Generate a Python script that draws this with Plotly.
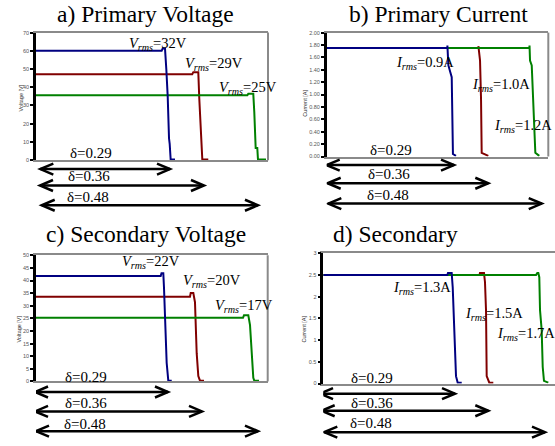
import plotly.graph_objects as go

W, H = 555, 446

# ---------------- data (time in units of the switching period) ----------------
# a) Primary Voltage [V]
A_BLUE_T = [0, 0.2793, 0.2816, 0.2867, 0.2896, 0.2927, 0.2956, 0.2971, 0.2993, 0.3089]
A_BLUE_V = [60, 60, 61.3, 61.3, 50, 35, 12, 9, 0.3, 0.3]
A_RED_T = [0, 0.3473, 0.3496, 0.3607, 0.3629, 0.3660, 0.3682, 0.3696, 0.3829]
A_RED_V = [47.2, 47.2, 48.3, 48.3, 33.7, 13.9, 10.3, 0.4, 0.4]
A_GREEN_T = [0, 0.4696, 0.4718, 0.4829, 0.4851, 0.4882, 0.4918, 0.4933, 0.5111]
A_GREEN_V = [35.6, 35.6, 36.4, 36.4, 26.5, 6.7, 6.7, 0.4, 0.4]

# b) Primary Current [A]
B_BLUE_T = [0, 0.2680, 0.2682, 0.2704, 0.2778, 0.2785, 0.2800, 0.2805, 0.2873]
B_BLUE_I = [1.75, 1.75, 1.79, 1.47, 1.28, 0.51, 0.38, 0.04, 0.01]
B_RED_T = [0, 0.3369, 0.3371, 0.3407, 0.3429, 0.3444, 0.3591]
B_RED_I = [1.75, 1.75, 1.78, 1.55, 0.94, 0.06, 0.01]
B_GREEN_T = [0, 0.4502, 0.4507, 0.4518, 0.4556, 0.4607, 0.4636, 0.4724]
B_GREEN_I = [1.75, 1.75, 1.79, 1.55, 1.47, 0.57, 0.06, 0.01]

# c) Secondary Voltage [V]
C_BLUE_T = [0, 0.2771, 0.2789, 0.2829, 0.2844, 0.2904, 0.2940, 0.3016]
C_BLUE_V = [41.8, 41.8, 42.9, 42.9, 37.3, 7.3, 0.3, 0.3]
C_RED_T = [0, 0.3422, 0.3438, 0.3496, 0.3533, 0.3571, 0.3607, 0.3644, 0.3733]
C_RED_V = [33.6, 33.6, 35.0, 35.0, 31.4, 11.2, 2.1, 0.3, 0.3]
C_GREEN_T = [0, 0.4600, 0.4622, 0.4718, 0.4756, 0.4793, 0.4829, 0.4851, 0.4956]
C_GREEN_V = [25.2, 25.2, 26.2, 26.2, 22.3, 11.2, 1.4, 0.3, 0.3]

# d) Secondary Current [A]
D_BLUE_T = [0, 0.2756, 0.2771, 0.2853, 0.2876, 0.2904, 0.2949, 0.2987, 0.3076]
D_BLUE_I = [2.5, 2.5, 2.55, 2.55, 2.22, 1.23, 0.17, 0.02, 0.02]
D_RED_T = [0, 0.3471, 0.3482, 0.3571, 0.3593, 0.3616, 0.3631, 0.3689, 0.3778]
D_RED_I = [2.5, 2.5, 2.55, 2.55, 2.34, 1.69, 0.17, 0.02, 0.02]
D_GREEN_T = [0, 0.4727, 0.4756, 0.4778, 0.4800, 0.4816, 0.4853, 0.4876, 0.4904, 0.5000]
D_GREEN_I = [2.5, 2.5, 2.55, 2.55, 2.45, 1.69, 1.23, 0.38, 0.06, 0.02]

# duty-cycle arrows (start / end in time units)
DELTA_LABELS = ["δ=0.29", "δ=0.36", "δ=0.48"]
A_ARROW_START = [0.0096, 0.0089, 0.0127]
A_ARROW_END = [0.2978, 0.3733, 0.4933]
B_ARROW_START = [0.0, 0.0022, 0.0036]
B_ARROW_END = [0.2829, 0.3591, 0.4778]
C_ARROW_START = [-0.0022, -0.0022, 0.0]
C_ARROW_END = [0.2933, 0.3689, 0.4933]
D_ARROW_START = [-0.0073, -0.0036, 0.0022]
D_ARROW_END = [0.2927, 0.3667, 0.4927]

# rms annotations
A_RMS = ["32V", "29V", "25V"]
B_RMS = ["0.9A", "1.0A", "1.2A"]
C_RMS = ["22V", "20V", "17V"]
D_RMS = ["1.3A", "1.5A", "1.7A"]

TITLES = ["a) Primary Voltage", "b) Primary Current", "c) Secondary Voltage", "d) Secondary"]
Y_TITLES = ["Voltage [V]", "Current [A]", "Voltage [V]", "Current [A]"]

# ---------------- styling ----------------
BLUE, RED, GREEN = "#000080", "#800000", "#008000"
GREY = "#8a8a8a"
SERIF = "Liberation Serif, Times New Roman, serif"
SANS = "Liberation Sans, Arial, sans-serif"


def px(x):
    return x / W


def py(y):
    return 1 - y / H


fig = go.Figure()

panels = [
    ("", [(A_RED_T, A_RED_V, RED), (A_GREEN_T, A_GREEN_V, GREEN), (A_BLUE_T, A_BLUE_V, BLUE)],
     [0, 0.5156], [0, 70], 10, "d", (36, 268), (30, 159.3), True),
    ("2", [(B_RED_T, B_RED_I, RED), (B_GREEN_T, B_GREEN_I, GREEN), (B_BLUE_T, B_BLUE_I, BLUE)],
     [0, 0.4924], [0, 2], 0.2, ".2f", (326.7, 548.3), (30, 155.6), True),
    ("3", [(C_RED_T, C_RED_V, RED), (C_GREEN_T, C_GREEN_V, GREEN), (C_BLUE_T, C_BLUE_V, BLUE)],
     [0, 0.5149], [0, 50], 5, "d", (36, 267.7), (255.7, 383.6), True),
    ("4", [(D_RED_T, D_RED_I, RED), (D_GREEN_T, D_GREEN_I, GREEN), (D_BLUE_T, D_BLUE_I, BLUE)],
     [0, 0.5149], [0, 3], 0.5, "", (323.3, 556), (253.8, 385.7), False),
]

layout = dict(
    width=W, height=H, margin=dict(l=0, r=0, t=0, b=0),
    paper_bgcolor="white", plot_bgcolor="white", showlegend=False,
)
shapes = []

for suf, series, xr, yr, dt, tf, dxp, dyp, rb in panels:
    xa, ya = "x" + suf, "y" + suf
    for t, v, c in series:
        fig.add_trace(go.Scatter(x=t, y=v, mode="lines", line=dict(color=c, width=2),
                                 xaxis=xa, yaxis=ya, hoverinfo="skip"))
    layout["xaxis" + suf] = dict(
        domain=[px(dxp[0]), min(1.0, px(dxp[1]))], range=xr, anchor=ya,
        showline=True, linecolor=GREY, linewidth=2, mirror=True,
        showticklabels=False, ticks="", showgrid=False, zeroline=False,
    )
    layout["yaxis" + suf] = dict(
        domain=[py(dyp[1]), py(dyp[0])], range=yr, anchor=xa, dtick=dt, tick0=0,
        tickformat=tf, showline=True, linecolor="black", linewidth=2.5,
        ticks="outside", ticklen=3, tickwidth=1.5, tickcolor="black",
        tickfont=dict(family=SANS, size=5.5, color="#555555"),
        showgrid=False, zeroline=False,
    )
    if rb:
        shapes.append(dict(type="line", xref=xa + " domain", yref=ya + " domain",
                           x0=1, x1=1, y0=0, y1=1, line=dict(color=GREY, width=2)))


def add_arrows(xa, starts, ends, ys):
    for s, e, y in zip(starts, ends, ys):
        yp = py(y)
        lw = dict(color="black", width=2.5)
        shapes.append(dict(type="line", xref=xa, yref="paper", x0=s, x1=e, y0=yp, y1=yp, line=lw))
        shapes.append(dict(type="path", xref=xa, yref="paper", xsizemode="pixel", ysizemode="pixel",
                           xanchor=s, yanchor=yp, path="M 13,5.5 L 0,0 L 13,-5.5", line=lw))
        shapes.append(dict(type="path", xref=xa, yref="paper", xsizemode="pixel", ysizemode="pixel",
                           xanchor=e, yanchor=yp, path="M -13,5.5 L 0,0 L -13,-5.5", line=lw))


add_arrows("x", A_ARROW_START, A_ARROW_END, [168.3, 185, 205])
add_arrows("x2", B_ARROW_START, B_ARROW_END, [164.3, 182.7, 203.3])
add_arrows("x3", C_ARROW_START, C_ARROW_END, [394.3, 414, 434])
add_arrows("x4", D_ARROW_START, D_ARROW_END, [396, 413.3, 435])

annotations = []


def ann(text, x, y, size, xanchor="center", family=SERIF, color="black", angle=0):
    annotations.append(dict(text=text, x=px(x), y=py(y), xref="paper", yref="paper",
                            xanchor=xanchor, yanchor="middle", showarrow=False, textangle=angle,
                            font=dict(family=family, size=size, color=color)))


# panel titles
for txt, (x, y) in zip(TITLES, [(145.5, 11), (438.3, 11), (145.8, 234), (395.8, 234)]):
    ann(txt, x, y, 23.5)

# axis titles
for txt, (x, y) in zip(Y_TITLES, [(20.7, 96), (305, 102), (19, 331), (304, 331)]):
    ann(txt, x, y, 5.5, family=SANS, color="#333333", angle=-90)

# delta labels
for pos in [[(90.8, 151.7), (89, 175.5), (88, 197)],
            [(390.8, 149), (389, 173), (388, 195)],
            [(85.8, 379), (85.8, 405), (85, 426.7)],
            [(371.7, 380), (372, 405), (371, 426)]]:
    for lab, (x, y) in zip(DELTA_LABELS, pos):
        ann(lab, x, y, 15)

# rms labels
for sym, vals, pos in [("V", A_RMS, [(126.7, 41.7), (182.7, 61.7), (217, 86)]),
                       ("I", B_RMS, [(394, 61), (470, 83.3), (492, 124.3)]),
                       ("V", C_RMS, [(120, 262.7), (181, 281.7), (213, 306.7)]),
                       ("I", D_RMS, [(391, 289), (463, 315.7), (495, 335.7)])]:
    for v, (x, y) in zip(vals, pos):
        ann("<i>%s<sub>rms</sub></i>=%s" % (sym, v), x, y, 14.5, xanchor="left")

layout["shapes"] = shapes
layout["annotations"] = annotations
fig.update_layout(**layout)
fig.write_html("out.html", config={"displayModeBar": False},
               post_script="document.body.style.margin='0';document.body.style.overflow='hidden';")
